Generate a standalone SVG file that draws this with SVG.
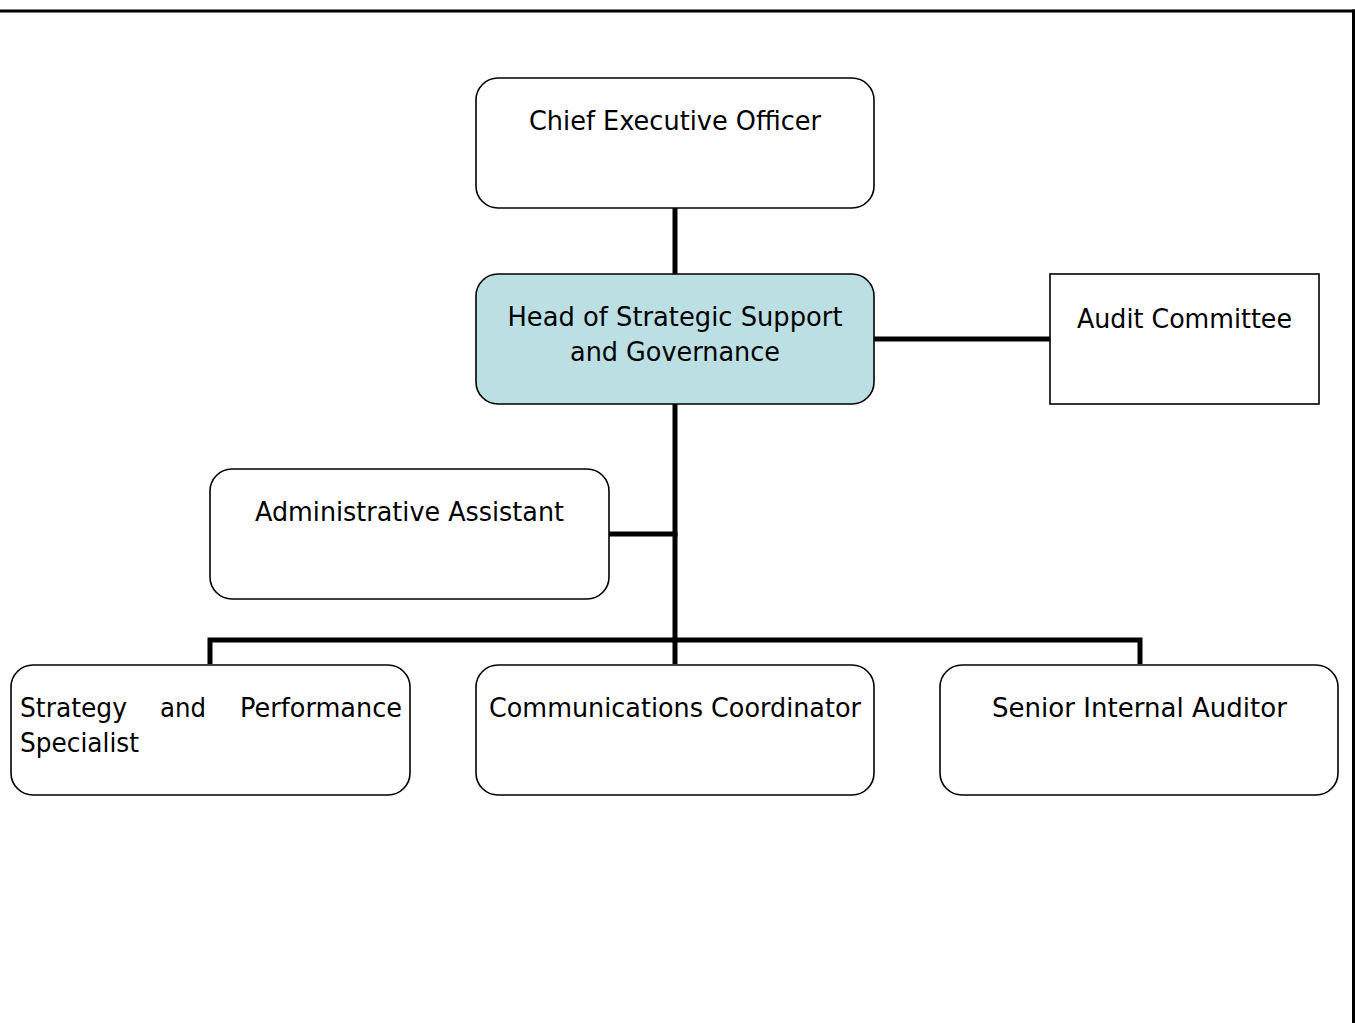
<svg xmlns="http://www.w3.org/2000/svg" width="1355" height="1023" viewBox="0 0 1355 1023">
<style>
.box{fill:#ffffff;stroke:#000;stroke-width:1.6}
.hl{fill:#bbdfe3}
.t{font-family:"DejaVu Sans","Liberation Sans",sans-serif;font-size:26px;fill:#000}
.c{text-anchor:middle}
.ln{stroke:#000;stroke-width:5;fill:none;stroke-linecap:square}
.frame{stroke:#000;stroke-width:3;fill:none}
</style>
<rect width="1355" height="1023" fill="#fff"/>
<g id="frame">
<line class="frame" x1="0" y1="11" x2="1355" y2="11"/>
<line class="frame" x1="1353.5" y1="9.5" x2="1353.5" y2="1023"/>
</g>
<g id="connectors">
<line class="ln" x1="675" y1="209" x2="675" y2="273"/>
<line class="ln" x1="875" y1="339" x2="1049" y2="339"/>
<line class="ln" x1="675" y1="405" x2="675" y2="640"/>
<line class="ln" x1="610" y1="534" x2="675" y2="534"/>
<polyline class="ln" points="210,664 210,640 1140,640 1140,664" style="stroke-linecap:butt;stroke-linejoin:miter"/>
<line class="ln" x1="675" y1="640" x2="675" y2="664" style="stroke-linecap:butt"/>
</g>
<g id="ceo">
<rect class="box" x="476" y="78" width="398" height="130" rx="22"/>
<text class="t c" x="675" y="130" textLength="292" lengthAdjust="spacingAndGlyphs">Chief Executive Officer</text>
</g>
<g id="head">
<rect class="box hl" x="476" y="274" width="398" height="130" rx="22"/>
<text class="t c" x="675" y="326" textLength="335" lengthAdjust="spacingAndGlyphs">Head of Strategic Support</text>
<text class="t c" x="675" y="361" textLength="210" lengthAdjust="spacingAndGlyphs">and Governance</text>
</g>
<g id="audit">
<rect class="box" x="1050" y="274" width="269" height="130"/>
<text class="t c" x="1184.5" y="328" textLength="215" lengthAdjust="spacingAndGlyphs">Audit Committee</text>
</g>
<g id="admin">
<rect class="box" x="210" y="469" width="399" height="130" rx="22"/>
<text class="t c" x="409.5" y="521" textLength="309" lengthAdjust="spacingAndGlyphs">Administrative Assistant</text>
</g>
<g id="strategy">
<rect class="box" x="11" y="665" width="399" height="130" rx="22"/>
<text class="t" x="20" y="717" textLength="107" lengthAdjust="spacingAndGlyphs">Strategy</text>
<text class="t" x="160" y="717" textLength="46" lengthAdjust="spacingAndGlyphs">and</text>
<text class="t" x="240" y="717" textLength="162" lengthAdjust="spacingAndGlyphs">Performance</text>
<text class="t" x="20" y="752" textLength="119" lengthAdjust="spacingAndGlyphs">Specialist</text>
</g>
<g id="comms">
<rect class="box" x="476" y="665" width="398" height="130" rx="22"/>
<text class="t c" x="675" y="717" textLength="372" lengthAdjust="spacingAndGlyphs">Communications Coordinator</text>
</g>
<g id="auditor">
<rect class="box" x="940" y="665" width="398" height="130" rx="22"/>
<text class="t c" x="1139.5" y="717" textLength="295" lengthAdjust="spacingAndGlyphs">Senior Internal Auditor</text>
</g>
</svg>
